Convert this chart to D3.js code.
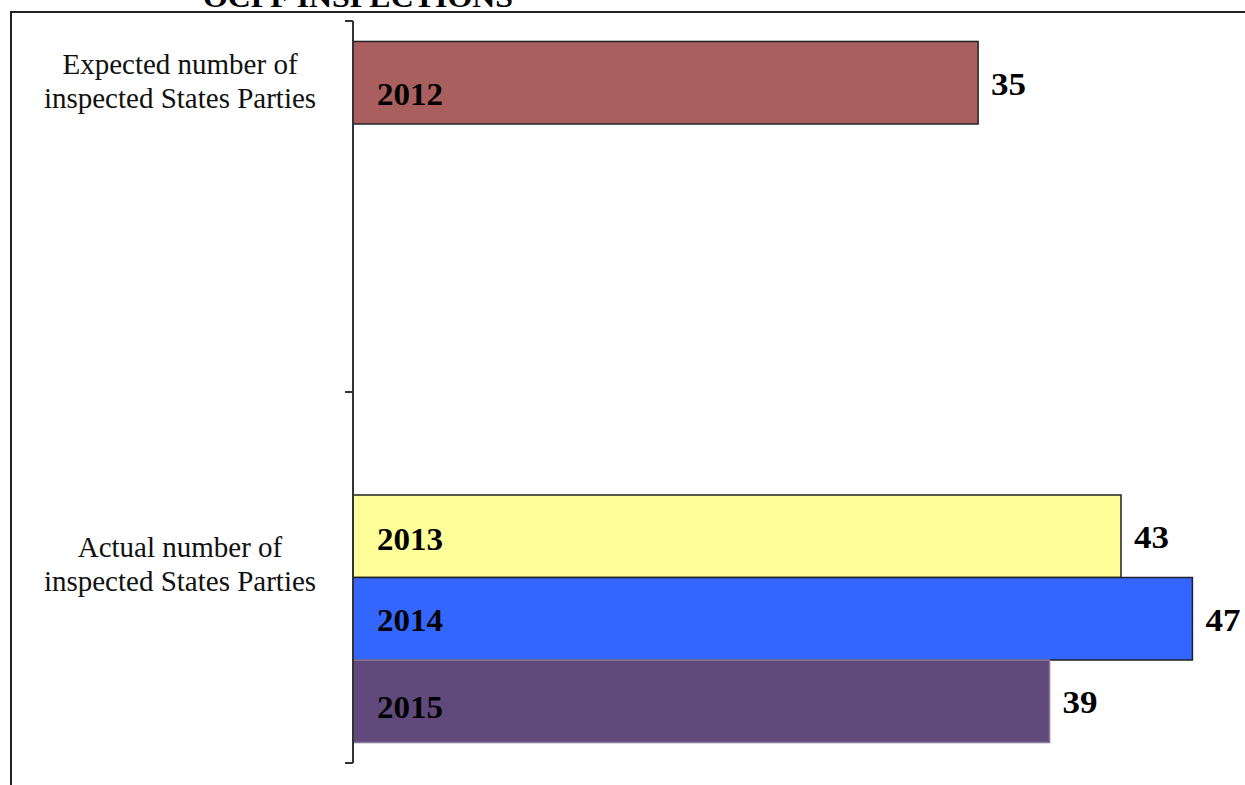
<!DOCTYPE html>
<html>
<head>
<meta charset="utf-8">
<script src="https://cdn.jsdelivr.net/npm/d3@7"></script>
<style>
  html, body { margin: 0; padding: 0; background: #fff; }
  svg { display: block; }
  text { font-family: "Liberation Serif", "Times New Roman", serif; }
</style>
</head>
<body>
<svg id="chart" width="1245" height="785"></svg>
<script>
// ---- data ----
const title = "OCPF INSPECTIONS";
const categories = ["Expected", "Actual"];
const categoryLabels = [
  ["Expected number of", "inspected States Parties"],
  ["Actual number of", "inspected States Parties"]
];
const years = ["2012", "2013", "2014", "2015"];
const expectedValues = [35, null, null, null];
const actualValues = [null, 43, 47, 39];
const colors = ["#A85F5E", "#FFFF99", "#3366FF", "#604A7B"];

// ---- layout ----
const W = 1245, H = 785;
const svg = d3.select("#chart");
const axisX = 353;

const y0 = d3.scaleBand().domain(categories).range([21, 763]).paddingInner(0).paddingOuter(0);
const y1 = d3.scaleBand().domain(years).range([0, y0.bandwidth()]).paddingInner(0).paddingOuter(0.248);
const x = d3.scaleLinear().domain([0, 50]).range([axisX, axisX + 50 * 17.86]);

const seriesByCat = { "Expected": expectedValues, "Actual": actualValues };

// frame
svg.append("path")
  .attr("d", `M11,${H} L11,12 L${W},12`)
  .attr("fill", "none").attr("stroke", "#222").attr("stroke-width", 2);

// title (partially cut by top, as in the reference)
svg.append("text")
  .attr("x", 203).attr("y", 7)
  .attr("font-size", 29).attr("font-weight", "bold")
  .attr("textLength", 310).attr("lengthAdjust", "spacingAndGlyphs")
  .text(title);

// bars
const rows = [];
categories.forEach(c => {
  seriesByCat[c].forEach((v, i) => {
    if (v != null) rows.push({ cat: c, year: years[i], value: v, i });
  });
});

const g = svg.append("g");
g.selectAll("rect.bar").data(rows).join("rect")
  .attr("class", "bar")
  .attr("x", x(0))
  .attr("y", d => y0(d.cat) + y1(d.year))
  .attr("width", d => x(d.value) - x(0))
  .attr("height", y1.bandwidth())
  .attr("fill", d => colors[d.i])
  .attr("stroke", d => d.i === 3 ? "#8a7aa0" : "#222")
  .attr("stroke-width", 1.5);

// year labels inside bars
const yearDy = { "2012": 22, "2013": 14, "2014": 12, "2015": 17 };
g.selectAll("text.year").data(rows).join("text")
  .attr("class", "year")
  .attr("x", x(0) + 24)
  .attr("y", d => y0(d.cat) + y1(d.year) + y1.bandwidth() / 2 + yearDy[d.year])
  .attr("font-size", 31).attr("font-weight", "bold").attr("fill", "#000")
  .attr("textLength", 66).attr("lengthAdjust", "spacingAndGlyphs")
  .text(d => d.year);

// value labels
g.selectAll("text.val").data(rows).join("text")
  .attr("class", "val")
  .attr("x", d => x(d.value) + 13)
  .attr("y", d => y0(d.cat) + y1(d.year) + y1.bandwidth() / 2 + 12)
  .attr("font-size", 32).attr("font-weight", "bold").attr("fill", "#000")
  .attr("textLength", 35).attr("lengthAdjust", "spacingAndGlyphs")
  .text(d => d.value);

// category axis
const axisG = svg.append("g").attr("stroke", "#333").attr("stroke-width", 2).attr("fill", "none");
axisG.append("line").attr("x1", axisX).attr("x2", axisX)
  .attr("y1", y0.range()[0]).attr("y2", y0.range()[1]);
const tickYs = categories.map(c => y0(c)).concat([y0(categories[categories.length - 1]) + y0.bandwidth()]);
axisG.selectAll("line.tick").data(tickYs).join("line")
  .attr("class", "tick")
  .attr("x1", axisX - 8).attr("x2", axisX)
  .attr("y1", d => d).attr("y2", d => d);

// category labels
const labelOffsets = [53, 165];
categories.forEach((c, ci) => {
  const t = svg.append("text")
    .attr("text-anchor", "middle")
    .attr("font-size", 29).attr("fill", "#111");
  categoryLabels[ci].forEach((line, li) => {
    t.append("tspan").attr("x", 180).attr("y", y0(c) + labelOffsets[ci] + li * 34).text(line);
  });
});
</script>
</body>
</html>
